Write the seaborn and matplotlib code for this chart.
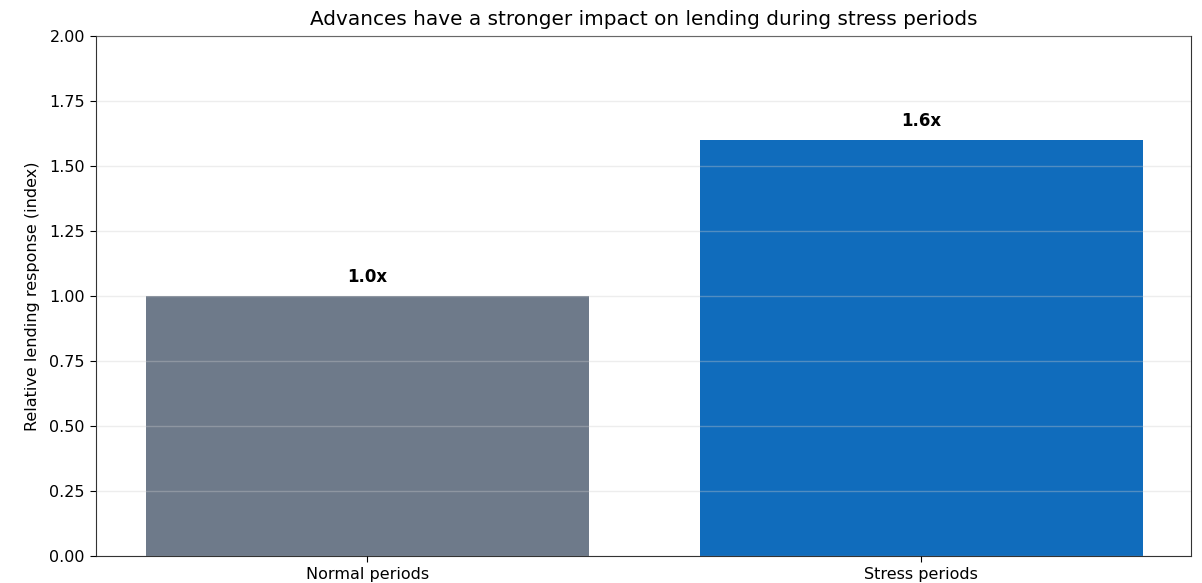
import pandas as pd
import seaborn as sns
import matplotlib.pyplot as plt

categories = ['Normal periods', 'Stress periods']
values = [1.0, 1.6]
labels = ['1.0x', '1.6x']
colors = ['#6e7a8a', '#106cbc']

df = pd.DataFrame({'period': categories, 'response': values})

sns.set_style('ticks')
plt.rcParams['font.family'] = ['DejaVu Sans']
plt.rcParams['text.color'] = 'black'
plt.rcParams['axes.labelcolor'] = 'black'
plt.rcParams['xtick.color'] = 'black'
plt.rcParams['ytick.color'] = 'black'

fig = plt.figure(figsize=(12.02, 5.83), dpi=100)
ax = fig.add_axes([0.0799, 0.0463, 0.9109, 0.892])

sns.barplot(data=df, x='period', y='response', hue='period', palette=colors,
            width=0.8, saturation=1, legend=False, linewidth=0, ax=ax)

# value labels above bars
for i, (v, lab) in enumerate(zip(values, labels)):
    ax.text(i, v + 0.04, lab, ha='center', va='bottom', fontsize=12, fontweight='bold')

ax.set_ylim(0, 2)
ax.set_xlim(-0.49, 1.487)
ax.set_yticks([0, 0.25, 0.5, 0.75, 1.0, 1.25, 1.5, 1.75, 2.0])
ax.set_yticklabels([f'{t:.2f}' for t in ax.get_yticks()])
ax.yaxis.grid(True, color='#cccccc', alpha=0.35, linewidth=1)
ax.set_axisbelow(False)
ax.set_xlabel('')
ax.set_ylabel('Relative lending response (index)', fontsize=11.5, labelpad=7)
ax.tick_params(labelsize=11.5, length=4, pad=4)
for s in ax.spines.values():
    s.set_color('#333333')
ax.set_title('Advances have a stronger impact on lending during stress periods', fontsize=14.4, pad=8)

fig.savefig('out.png', dpi=100)
